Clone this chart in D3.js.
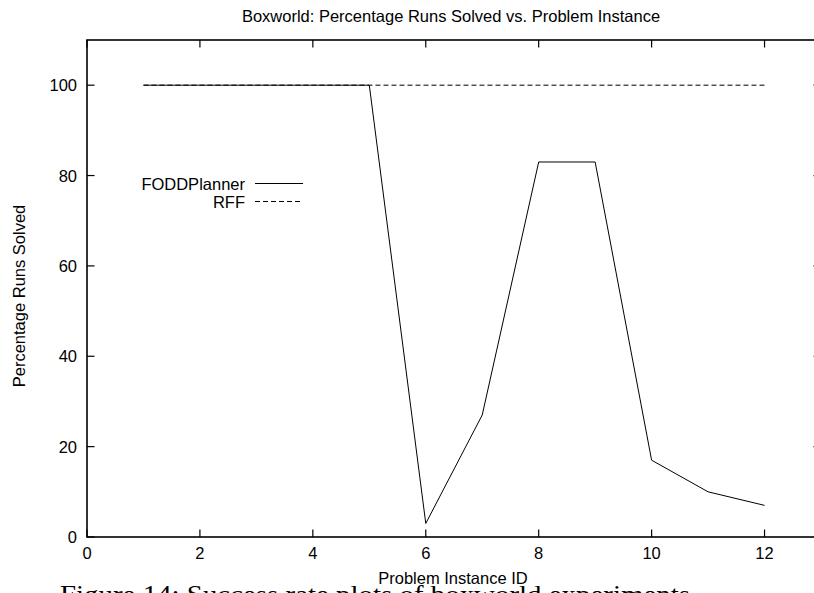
<!DOCTYPE html>
<html>
<head>
<meta charset="utf-8">
<script src="https://cdn.jsdelivr.net/npm/d3@7"></script>
<style>
  html, body { margin: 0; padding: 0; background: #fff; overflow: hidden; }
  svg { display: block; }
  text { font-family: "Liberation Sans", Arial, Helvetica, sans-serif; fill: #000; }
</style>
</head>
<body>
<svg id="chart" width="814" height="593"></svg>
<script>
// Problem instances and success rates (%)
const instances = [1, 2, 3, 4, 5, 6, 7, 8, 9, 10, 11, 12];
const foddPlanner = [100, 100, 100, 100, 100, 3, 27, 83, 83, 17, 10, 7];
const rff = [100, 100, 100, 100, 100, 100, 100, 100, 100, 100, 100, 100];
const xTicks = [0, 2, 4, 6, 8, 10, 12];
const yTicks = [0, 20, 40, 60, 80, 100];
const seriesNames = ["FODDPlanner", "RFF"];

const svg = d3.select("#chart");
const plotLeft = 87, plotRight = 821, plotTop = 40, plotBottom = 537;

const x = d3.scaleLinear().domain([0, 13]).range([plotLeft, plotRight]);
const y = d3.scaleLinear().domain([0, 110]).range([plotBottom, plotTop]);

const tickLen = 7.5;
const fontSize = "16.5px";

// Title
svg.append("text")
  .attr("x", 451).attr("y", 22)
  .attr("text-anchor", "middle")
  .style("font-size", fontSize)
  .text("Boxworld: Percentage Runs Solved vs. Problem Instance");

// Ticks on all four sides, pointing inward
const tickG = svg.append("g").attr("stroke", "#000").attr("stroke-width", 1.2);
xTicks.forEach(t => {
  tickG.append("line").attr("x1", x(t)).attr("x2", x(t)).attr("y1", plotBottom).attr("y2", plotBottom - tickLen);
  tickG.append("line").attr("x1", x(t)).attr("x2", x(t)).attr("y1", plotTop).attr("y2", plotTop + tickLen);
});
yTicks.forEach(t => {
  tickG.append("line").attr("x1", plotLeft).attr("x2", plotLeft + tickLen).attr("y1", y(t)).attr("y2", y(t));
  tickG.append("line").attr("x1", plotRight).attr("x2", plotRight - tickLen).attr("y1", y(t)).attr("y2", y(t));
});

// Tick labels
svg.append("g").selectAll("text").data(xTicks).join("text")
  .attr("x", d => x(d)).attr("y", 559)
  .attr("text-anchor", "middle")
  .style("font-size", fontSize)
  .text(d => d);
svg.append("g").selectAll("text").data(yTicks).join("text")
  .attr("x", plotLeft - 10).attr("y", d => y(d) + 6)
  .attr("text-anchor", "end")
  .style("font-size", fontSize)
  .text(d => d);

// Axis titles
svg.append("text")
  .attr("x", 453).attr("y", 584)
  .attr("text-anchor", "middle")
  .style("font-size", fontSize)
  .text("Problem Instance ID");
svg.append("text")
  .attr("transform", "translate(25,296) rotate(-90)")
  .attr("text-anchor", "middle")
  .style("font-size", fontSize)
  .text("Percentage Runs Solved");

// Series lines
const line = d3.line().x(d => x(d[0])).y(d => y(d[1]));
svg.append("path")
  .datum(instances.map((k, i) => [k, rff[i]]))
  .attr("d", line)
  .attr("fill", "none").attr("stroke", "#000").attr("stroke-width", 1)
  .attr("stroke-dasharray", "5,3");
svg.append("path")
  .datum(instances.map((k, i) => [k, foddPlanner[i]]))
  .attr("d", line)
  .attr("fill", "none").attr("stroke", "#000").attr("stroke-width", 1);

// Legend
const legend = svg.append("g");
seriesNames.forEach((name, i) => {
  const ly = 183.5 + i * 18;
  legend.append("text")
    .attr("x", 245).attr("y", ly + 6)
    .attr("text-anchor", "end")
    .style("font-size", fontSize)
    .text(name);
  legend.append("line")
    .attr("x1", 255).attr("x2", 303).attr("y1", ly).attr("y2", ly)
    .attr("stroke", "#000").attr("stroke-width", 1)
    .attr("stroke-dasharray", i === 1 ? "5,3" : null);
});

// Plot frame
svg.append("rect")
  .attr("x", plotLeft).attr("y", plotTop)
  .attr("width", plotRight - plotLeft).attr("height", plotBottom - plotTop)
  .attr("fill", "none").attr("stroke", "#000").attr("stroke-width", 1.6);

// Figure caption below the plot (runs past the bottom edge of the page)
svg.append("text")
  .attr("x", 60).attr("y", 603)
  .attr("textLength", 630)
  .attr("lengthAdjust", "spacingAndGlyphs")
  .style("font-family", "'Liberation Serif', 'DejaVu Serif', serif")
  .style("font-size", "26px")
  .text("Figure 14: Success rate plots of boxworld experiments");
</script>
</body>
</html>
